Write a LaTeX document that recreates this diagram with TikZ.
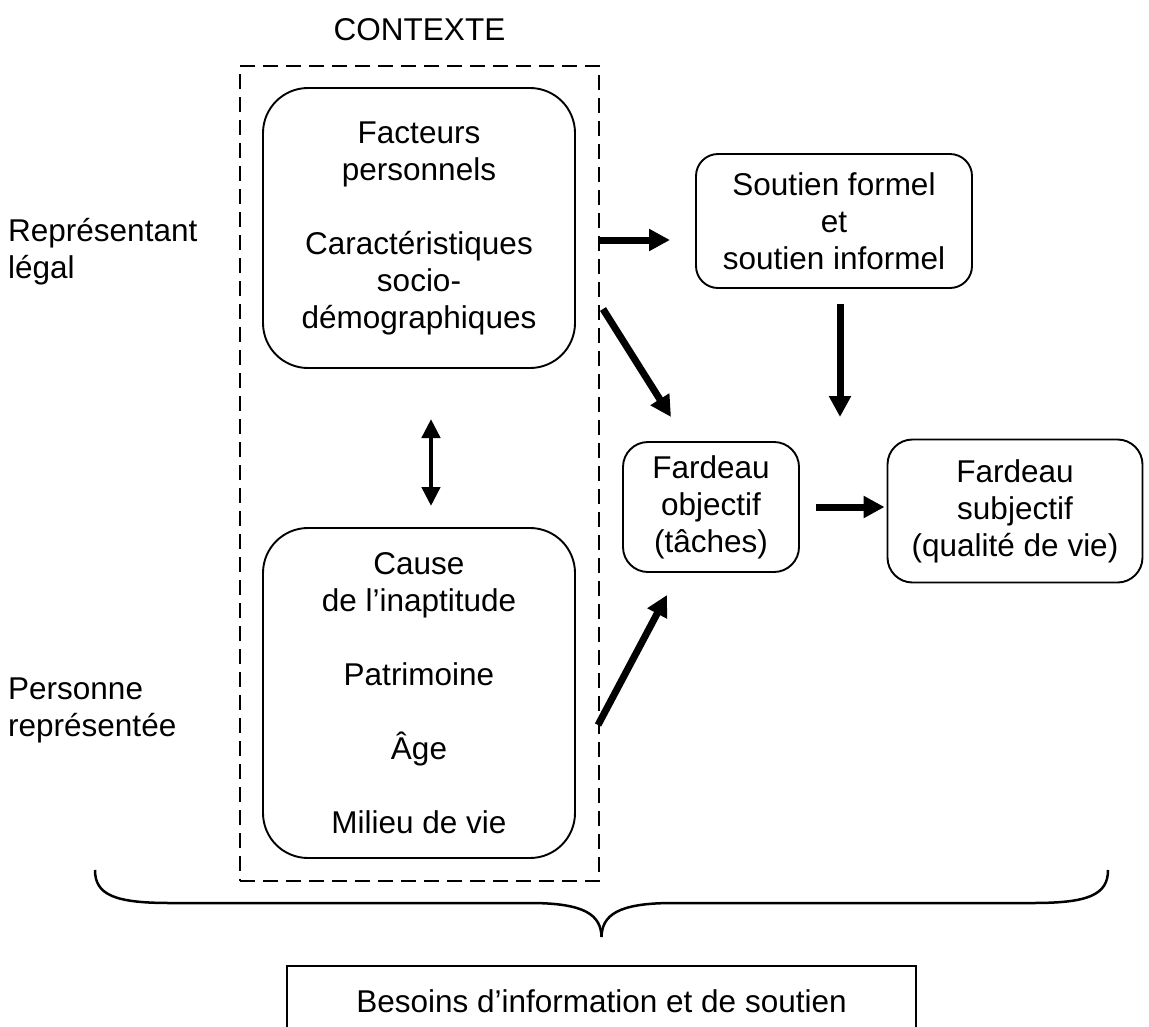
\documentclass[tikz,border=0pt]{standalone}
\usepackage{fontspec}
\setmainfont{Liberation Sans}
\usetikzlibrary{arrows.meta}
\begin{document}
\begin{tikzpicture}[x=1pt,y=-1pt,
  every node/.style={font=\fontsize{31.5}{37}\selectfont, align=center, inner sep=0pt},
  rbox/.style={draw, line width=1.9pt, rounded corners=#1},
  thickarrow/.style={line width=7pt, -{Triangle[length=21pt,width=21pt]}},
  dblarrow/.style={line width=4.5pt, {Triangle[length=19pt,width=18pt]}-{Triangle[length=19pt,width=18pt]}},
  ctxbox/.style={draw, line width=2.8pt, dash pattern=on 15pt off 8pt},
  bracestyle/.style={line width=2.5pt},
  ]
\fill[white] (0,0) rectangle (1149,1026);
\clip (0,0) rectangle (1149,1026);
\useasboundingbox (0,0) rectangle (1149,1026);

\node (ctxlbl) at (419.5,30) {CONTEXTE};
\node[ctxbox, minimum width=359pt, minimum height=815pt] (ctx) at (419.5,473.5) {};

\node[rbox=45pt, minimum width=312pt, minimum height=280pt] (fp) at (419,228)
  {Facteurs\\personnels\\[37pt]Caractéristiques\\socio-\\démographiques};
\node[rbox=45pt, minimum width=312pt, minimum height=330pt] (cause) at (419,693)
  {Cause\\de l’inaptitude\\[37pt]Patrimoine\\[37pt]Âge\\[37pt]Milieu de vie};

\node[align=left, anchor=west] (rep) at (8,252) {Représentant\\légal};
\node[align=left, anchor=west] (pers) at (8,710) {Personne\\représentée};

\node[rbox=22pt, minimum width=276pt, minimum height=134pt] (sout) at (834,221)
  {Soutien formel\\et\\soutien informel};
\node[rbox=25pt, minimum width=176pt, minimum height=130pt] (obj) at (711,507)
  {Fardeau\\objectif\\(tâches)};
\node[rbox=25pt, minimum width=255pt, minimum height=143pt] (subj) at (1015,511)
  {Fardeau\\subjectif\\(qualité de vie)};

\node[draw, line width=2pt, minimum width=629pt, minimum height=70pt] (besoins) at (601.5,1001)
  {Besoins d’information et de soutien};

\coordinate (a1s) at (600,240);
\coordinate (a1e) at (670,240);
\coordinate (a2s) at (603,309);
\coordinate (a2e) at (671,417);
\coordinate (a3s) at (598,725);
\coordinate (a3e) at (667,595);
\coordinate (v1) at (840,304);
\coordinate (v2) at (840,417);
\coordinate (d1) at (431,419);
\coordinate (d2) at (431,506);

\draw[thickarrow] (a1s) -- (a1e);
\draw[thickarrow] (a2s) -- (a2e);
\draw[thickarrow] (a3s) -- (a3e);
\draw[thickarrow] (v1) -- (v2);
\draw[thickarrow] ([xshift=16pt]obj.east) -- ([xshift=-2pt]obj.east -| subj.west);
\draw[dblarrow] (d1) -- (d2);

\draw[bracestyle] (95,870) .. controls (95,895) and (115,903) .. (170,903) -- (530,903)
  .. controls (585,903) and (601,915) .. (601.5,937);
\draw[bracestyle] (1108,870) .. controls (1108,895) and (1088,903) .. (1033,903) -- (673,903)
  .. controls (618,903) and (602,915) .. (601.5,937);
\end{tikzpicture}
\end{document}
